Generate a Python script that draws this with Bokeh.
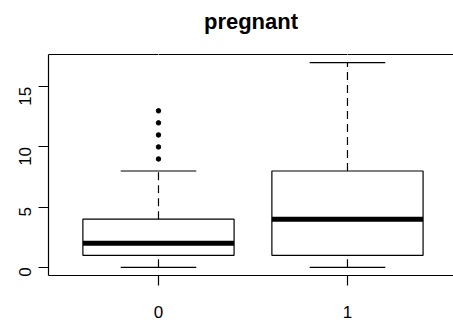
import math
from bokeh.plotting import figure
from bokeh.models import Range1d, FixedTicker, LinearAxis, ColumnDataSource
from bokeh.embed import file_html
from bokeh.resources import INLINE

# data
title_text = "pregnant"
categories = ["0", "1"]
q1 = [1, 1]
median = [2, 4]
q3 = [4, 8]
whisker_lo = [0, 0]
whisker_hi = [8, 17]
outlier_group = [0, 0, 0, 0, 0]
outlier_values = [9, 10, 11, 12, 13]
y_ticks = [0, 5, 10, 15]

FONT = "Liberation Sans"

pos = list(range(len(categories)))
box_w = 0.8
cap_w = 0.4

x_range = Range1d(-0.582, 1.561)
y_range = Range1d(-0.68, 17.68)
p = figure(width=453, height=326, output_backend="svg", toolbar_location=None,
           x_range=x_range, y_range=y_range,
           min_border_left=48, min_border_right=0, min_border_top=0, min_border_bottom=51,
           x_axis_location="below", y_axis_location="left")
p.outline_line_color = None
p.grid.visible = False
p.background_fill_color = "white"
p.border_fill_color = "white"

p.title.text = title_text
p.title.text_font = FONT
p.title.text_font_size = "22px"
p.title.text_font_style = "bold"
p.title.text_color = "black"
p.title.align = "center"
p.title.standoff = 13

src = ColumnDataSource(dict(x=pos, q1=q1, med=median, q3=q3, lo=whisker_lo, hi=whisker_hi,
                            xl=[x - box_w / 2 for x in pos], xr=[x + box_w / 2 for x in pos],
                            cl=[x - cap_w / 2 for x in pos], cr=[x + cap_w / 2 for x in pos]))

# whiskers
p.segment(x0="x", y0="q3", x1="x", y1="hi", source=src, line_color="black", line_width=1.2, line_dash="8 5")
p.segment(x0="x", y0="lo", x1="x", y1="q1", source=src, line_color="black", line_width=1.2, line_dash="8 5")
p.segment(x0="cl", y0="hi", x1="cr", y1="hi", source=src, line_color="black", line_width=1.2)
p.segment(x0="cl", y0="lo", x1="cr", y1="lo", source=src, line_color="black", line_width=1.2)
# boxes
p.vbar(x="x", width=box_w, bottom="q1", top="q3", source=src, fill_color="white", line_color="black", line_width=1.2)
p.segment(x0="xl", y0="med", x1="xr", y1="med", source=src, line_color="black", line_width=5)
# outliers
p.scatter(x=[pos[g] for g in outlier_group], y=outlier_values, size=4.5, marker="circle",
          fill_color="black", line_color="black")

for ax in (p.xaxis[0], p.yaxis[0]):
    ax.axis_line_color = "black"
    ax.axis_line_width = 1.2
    ax.major_tick_line_color = "black"
    ax.major_tick_line_width = 1.2
    ax.major_tick_out = 10
    ax.major_tick_in = 0
    ax.minor_tick_line_color = None
    ax.major_label_text_font = FONT
    ax.major_label_text_font_size = "17px"
    ax.major_label_text_color = "black"

p.xaxis.ticker = FixedTicker(ticks=pos)
p.xaxis.major_label_overrides = {i: c for i, c in zip(pos, categories)}
p.xaxis.major_label_standoff = 20
p.yaxis.ticker = FixedTicker(ticks=y_ticks)
p.yaxis.major_label_orientation = math.pi / 2
p.yaxis.major_label_standoff = 13

# top border line; its invisible (white) outward ticks leave the gap below the title
top_axis = LinearAxis(axis_line_color="black", axis_line_width=1.2, major_tick_line_color="white",
                      major_tick_line_width=1, minor_tick_line_color=None,
                      major_label_text_font_size="0px", major_label_text_color=None,
                      ticker=FixedTicker(ticks=pos), major_label_overrides={i: "" for i in pos},
                      major_label_standoff=0, major_tick_out=14, major_tick_in=0)
p.add_layout(top_axis, "above")

open("out.html", "w").write(file_html(p, INLINE))
